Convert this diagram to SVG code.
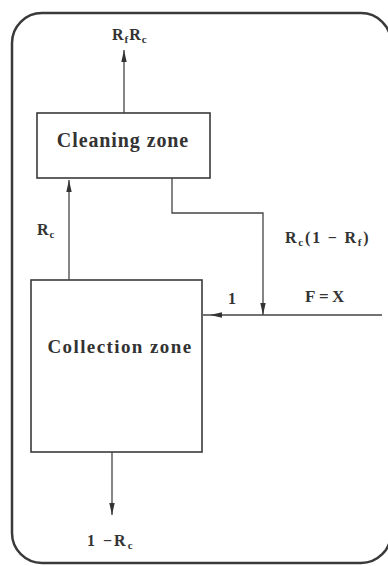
<svg xmlns="http://www.w3.org/2000/svg" width="388" height="566" viewBox="0 0 388 566">
<style>
.frame{fill:none;stroke:#3a3a3a;stroke-width:2.5}
.box{fill:#fff;stroke:#3a3a3a;stroke-width:1.6}
.ln{fill:none;stroke:#444;stroke-width:1.3}
.t{font-family:"Liberation Serif","Times New Roman",serif;font-weight:bold;fill:#333}
.lab{font-size:16px;letter-spacing:1px}
.sub{font-size:11px}
.zone{font-size:20px;letter-spacing:0.9px}
</style>
<defs>
<marker id="ah" markerUnits="userSpaceOnUse" markerWidth="13" markerHeight="7" refX="12" refY="3.5" orient="auto">
<path d="M0,0.8 L12,3.5 L0,6.2 z" fill="#333"/>
</marker>
</defs>
<rect class="frame" x="12" y="13" width="379" height="550" rx="30" ry="30"/>
<g id="cleaning">
<rect class="box" x="37" y="113" width="173" height="65"/>
<text class="t zone" x="123" y="147" text-anchor="middle">Cleaning zone</text>
</g>
<g id="collection">
<rect class="box" x="31" y="280" width="171" height="172"/>
<text class="t zone" x="120" y="353" text-anchor="middle" style="font-size:19px;letter-spacing:1.4px">Collection zone</text>
</g>
<g id="connectors">
<line class="ln" x1="124" y1="113" x2="124" y2="50" marker-end="url(#ah)"/>
<line class="ln" x1="69" y1="280" x2="69" y2="180" marker-end="url(#ah)"/>
<polyline class="ln" points="172,178 172,213 263,213 263,315" marker-end="url(#ah)"/>
<polyline class="ln" points="382,315 210,315 203,315" marker-mid="url(#ah)"/>
<line class="ln" x1="112" y1="452" x2="112" y2="515" marker-end="url(#ah)"/>
</g>
<g id="labels">
<text class="t lab" x="112" y="40">R<tspan class="sub" dy="3">f</tspan><tspan dy="-3">R</tspan><tspan class="sub" dy="3">c</tspan></text>
<text class="t lab" x="37" y="235">R<tspan class="sub" dy="3">c</tspan></text>
<text class="t lab" x="285" y="243" style="letter-spacing:1.8px">R<tspan class="sub" dy="3">c</tspan><tspan dy="-3">(1 − R</tspan><tspan class="sub" dy="3">f</tspan><tspan dy="-3">)</tspan></text>
<text class="t lab" x="305" y="302" style="font-size:17px;letter-spacing:3.5px">F=X</text>
<text class="t lab" x="228" y="304">1</text>
<text class="t lab" x="87" y="546" style="letter-spacing:2px">1 −R<tspan class="sub" dy="3">c</tspan></text>
</g>
</svg>
